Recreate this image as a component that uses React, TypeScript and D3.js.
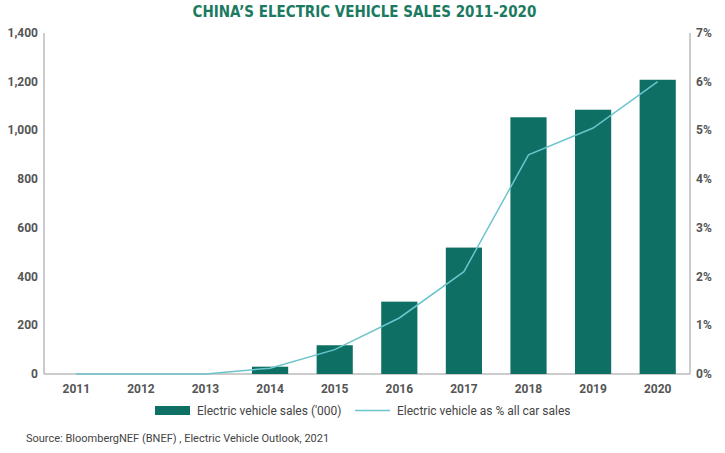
import * as d3 from 'd3';

const years = ['2011','2012','2013','2014','2015','2016','2017','2018','2019','2020'];
const sales = [0, 0, 0, 30, 118, 297, 519, 1054, 1085, 1208];
const share = [0, 0, 0, 0.12, 0.5, 1.15, 2.1, 4.5, 5.05, 6.0];
const leftTicks = [0, 200, 400, 600, 800, 1000, 1200, 1400];
const rightTicks = [0, 1, 2, 3, 4, 5, 6, 7];

const W = 725, H = 453;
const m = { left: 44, right: 690, top: 33, bottom: 374 };
const barColor = '#0e7064';
const lineColor = '#6cc4cc';
const font = 'Roboto, "Noto Sans", sans-serif';

export default function App() {
  const x = d3.scaleBand().domain(years).range([m.left, m.right]).paddingInner(0.44).paddingOuter(0.22);
  const y = d3.scaleLinear().domain([0, 1400]).range([m.bottom, m.top]);
  const y2 = d3.scaleLinear().domain([0, 7]).range([m.bottom, m.top]);
  const line = d3.line<number>()
    .x((_, i) => (x(years[i]) ?? 0) + x.bandwidth() / 2)
    .y(d => y2(d));

  return (
    <svg width={W} height={H} style={{ position: 'absolute', left: 0, top: 0, background: '#fff' }}>
      <text x={W / 2 + 2} y={17} textAnchor="middle" fontFamily='"Liberation Sans Narrow", "DejaVu Sans Condensed", sans-serif' fontWeight="bold" fontSize={15} fill="#1b7a5f" style={{ fontStretch: 'condensed' }}>CHINA’S ELECTRIC VEHICLE SALES 2011-2020</text>
      <line x1={m.left} x2={m.left} y1={m.top} y2={m.bottom} stroke="#999" />
      <line x1={m.right} x2={m.right} y1={m.top} y2={m.bottom} stroke="#999" />
      <line x1={m.left} x2={m.right} y1={m.bottom} y2={m.bottom} stroke="#999" />
      {leftTicks.map(t => (
        <text key={t} x={m.left - 6} y={y(t) + 4} textAnchor="end" fontFamily={font} fontWeight="bold" fontSize={12} fill="#555">{d3.format(',')(t)}</text>
      ))}
      {rightTicks.map(t => (
        <text key={t} x={m.right + 6} y={y2(t) + 4} fontFamily={font} fontWeight="bold" fontSize={12} fill="#555">{t}%</text>
      ))}
      {years.map((yr, i) => (
        <g key={yr}>
          <rect x={x(yr)} y={y(sales[i])} width={x.bandwidth()} height={m.bottom - y(sales[i])} fill={barColor} />
          <text x={(x(yr) ?? 0) + x.bandwidth() / 2} y={m.bottom + 19} textAnchor="middle" fontFamily={font} fontWeight="bold" fontSize={12} fill="#555">{yr}</text>
        </g>
      ))}
      <path d={line(share) ?? ''} fill="none" stroke={lineColor} strokeWidth={1.5} />
      <rect x={155} y={406} width={35} height={9} fill={barColor} />
      <text x={197} y={415} fontFamily={font} fontSize={12} fill="#444">Electric vehicle sales ('000)</text>
      <line x1={355} x2={390} y1={410.5} y2={410.5} stroke={lineColor} strokeWidth={1.5} />
      <text x={397} y={415} fontFamily={font} fontSize={12} fill="#444">Electric vehicle as % all car sales</text>
      <text x={26} y={442} fontFamily={font} fontSize={11} fill="#444">Source: BloombergNEF (BNEF) , Electric Vehicle Outlook, 2021</text>
    </svg>
  );
}
